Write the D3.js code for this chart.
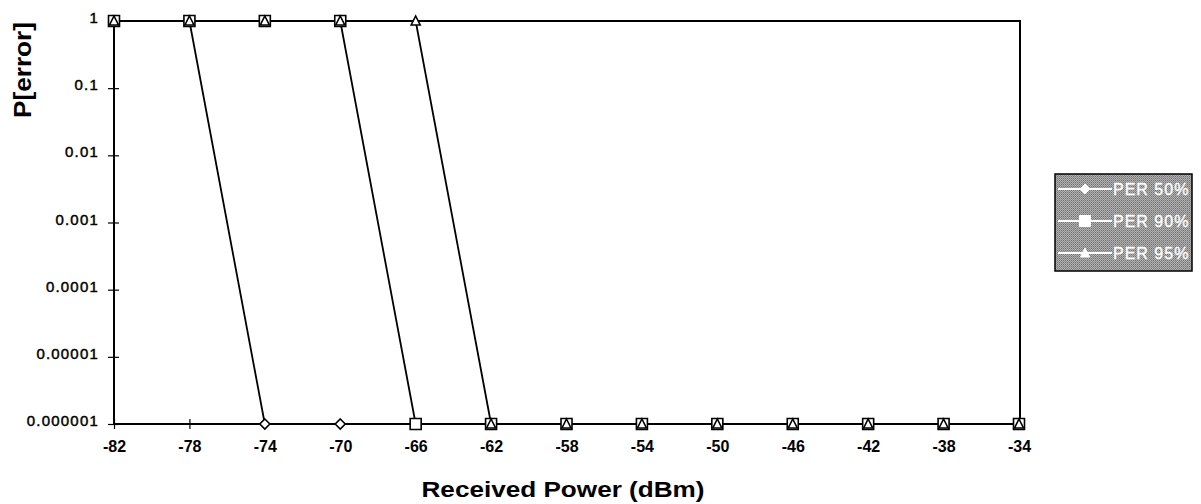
<!DOCTYPE html>
<html>
<head>
<meta charset="utf-8">
<script src="https://cdn.jsdelivr.net/npm/d3@7/dist/d3.min.js"></script>
<style>
  html, body { margin: 0; padding: 0; background: #fff; }
  svg { display: block; }
  text { font-family: "Liberation Sans", Arial, sans-serif; }
</style>
</head>
<body>
<svg id="chart" width="1201" height="504"></svg>
<script>
// ---- data ----
const powers = [-82, -78, -74, -70, -66, -62, -58, -54, -50, -46, -42, -38, -34];
const per50 = [1, 1, 1e-6, 1e-6, 1e-6, 1e-6, 1e-6, 1e-6, 1e-6, 1e-6, 1e-6, 1e-6, 1e-6];
const per90 = [1, 1, 1, 1, 1e-6, 1e-6, 1e-6, 1e-6, 1e-6, 1e-6, 1e-6, 1e-6, 1e-6];
const per95 = [1, 1, 1, 1, 1, 1e-6, 1e-6, 1e-6, 1e-6, 1e-6, 1e-6, 1e-6, 1e-6];
const seriesNames = ["PER 50%", "PER 90%", "PER 95%"];
const yTickValues = [1, 0.1, 0.01, 0.001, 0.0001, 0.00001, 0.000001];
const yTickLabels = ["1", "0.1", "0.01", "0.001", "0.0001", "0.00001", "0.000001"];
const xTitle = "Received Power (dBm)";
const yTitle = "P[error]";

const series = [
  { name: seriesNames[0], values: per50, marker: "diamond" },
  { name: seriesNames[1], values: per90, marker: "square" },
  { name: seriesNames[2], values: per95, marker: "triangle" }
];

const svg = d3.select("#chart");
const L = 114, R = 1019, T = 21, B = 424;

const x = d3.scaleLinear().domain([-82, -34]).range([L, R]);
const y = d3.scaleLog().domain([1e-6, 1]).range([B, T]);

// dither pattern for legend
const defs = svg.append("defs");
const pat = defs.append("pattern").attr("id", "dither")
  .attr("width", 2).attr("height", 2).attr("patternUnits", "userSpaceOnUse");
pat.append("rect").attr("width", 2).attr("height", 2).attr("fill", "#b4b4b4");
pat.append("rect").attr("width", 1).attr("height", 1).attr("fill", "#6e6e6e");
pat.append("rect").attr("x", 1).attr("y", 1).attr("width", 1).attr("height", 1).attr("fill", "#8a8a8a");

// plot frame
svg.append("rect")
  .attr("x", L).attr("y", T).attr("width", R - L + 1).attr("height", B - T)
  .attr("fill", "none").attr("stroke", "#000").attr("stroke-width", 2);

// x axis
const xAxis = d3.axisBottom(x).tickValues(powers).tickSize(0).tickPadding(0).tickFormat(d3.format("d"));
const gx = svg.append("g").attr("transform", `translate(0,${B})`).call(xAxis);
gx.select(".domain").remove();
gx.selectAll(".tick line").remove();
gx.selectAll(".tick").append("line")
  .attr("y1", -5).attr("y2", 5).attr("stroke", "#000").attr("stroke-width", 1.2);
gx.selectAll(".tick text")
  .attr("y", 28).attr("dy", null)
  .attr("font-size", 16).attr("font-weight", "bold").attr("fill", "#000")
  .style("font-family", '"Liberation Sans", Arial, sans-serif')
  .text(d => d3.format("d")(d).replace("−", "-"));

// y axis
const yAxis = d3.axisLeft(y).tickValues(yTickValues).tickSize(0).tickPadding(0)
  .tickFormat((d, i) => yTickLabels[i]);
const gy = svg.append("g").attr("transform", `translate(${L},0)`).call(yAxis);
gy.select(".domain").remove();
gy.selectAll(".tick line").remove();
gy.selectAll(".tick").append("line")
  .attr("x1", -6).attr("x2", 5).attr("stroke", "#000").attr("stroke-width", 1.2);
gy.selectAll(".tick text")
  .attr("x", -15).attr("dy", "0.1em")
  .attr("font-size", 15).attr("fill", "#000")
  .attr("stroke", "#000").attr("stroke-width", 0.45)
  .attr("letter-spacing", 1.2)
  .style("font-family", '"Liberation Sans", Arial, sans-serif');

// lines
const line = d3.line().x((d, i) => x(powers[i])).y(d => y(d));
series.forEach(s => {
  svg.append("path").datum(s.values)
    .attr("d", line).attr("fill", "none")
    .attr("stroke", "#000").attr("stroke-width", 1.8);
});

// markers
function markerPath(type) {
  if (type === "diamond") return "M0,-5L5,0L0,5L-5,0Z";
  if (type === "square") return "M-5.5,-5.5H5.5V5.5H-5.5Z";
  return "M0,-5L4.5,4L-4.5,4Z";
}
series.forEach(s => {
  svg.append("g").selectAll("path").data(s.values).join("path")
    .attr("transform", (d, i) => `translate(${x(powers[i])},${y(d)})`)
    .attr("d", markerPath(s.marker))
    .attr("fill", "#fff").attr("stroke", "#000").attr("stroke-width", 1.6);
});

// axis titles
svg.append("text")
  .attr("x", 563).attr("y", 497).attr("text-anchor", "middle")
  .attr("font-size", 22).attr("font-weight", "bold")
  .attr("textLength", 283).attr("lengthAdjust", "spacingAndGlyphs")
  .text(xTitle);
svg.append("text")
  .attr("transform", "translate(31,70) rotate(-90)")
  .attr("text-anchor", "middle")
  .attr("font-size", 24).attr("font-weight", "bold")
  .attr("textLength", 96).attr("lengthAdjust", "spacingAndGlyphs")
  .text(yTitle);

// legend
const lg = svg.append("g").attr("transform", "translate(1055,174)");
lg.append("rect").attr("x", 0).attr("y", 0).attr("width", 137).attr("height", 97)
  .attr("fill", "url(#dither)").attr("stroke", "#000").attr("stroke-width", 1.5);
series.forEach((s, i) => {
  const cy = 15 + i * 32;
  lg.append("line").attr("x1", 3).attr("x2", 57).attr("y1", cy).attr("y2", cy)
    .attr("stroke", "#fff").attr("stroke-width", 1.8);
  lg.append("path").attr("transform", `translate(30,${cy})`)
    .attr("d", markerPath(s.marker))
    .attr("fill", "#fff").attr("stroke", "#fff").attr("stroke-width", 1);
  lg.append("text").attr("x", 58).attr("y", cy).attr("dy", "0.36em")
    .attr("font-size", 16).attr("fill", "#fff").attr("letter-spacing", 1)
    .attr("stroke", "#fff").attr("stroke-width", 0.3)
    .text(s.name);
});
</script>
</body>
</html>
